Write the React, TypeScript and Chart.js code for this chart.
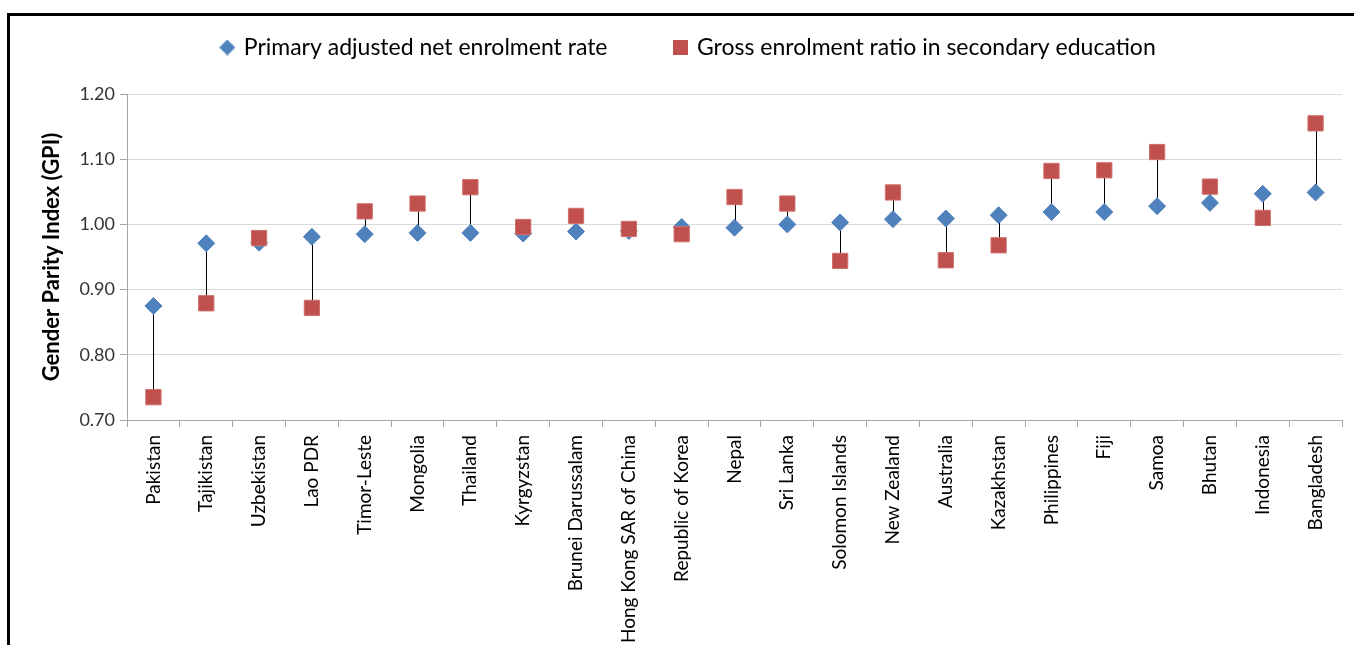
import React, { useEffect, useRef } from "react";
import { Chart, registerables } from "chart.js";

Chart.register(...registerables);

const countries = [
  "Pakistan", "Tajikistan", "Uzbekistan", "Lao PDR", "Timor-Leste", "Mongolia",
  "Thailand", "Kyrgyzstan", "Brunei Darussalam", "Hong Kong SAR of China",
  "Republic of Korea", "Nepal", "Sri Lanka", "Solomon Islands", "New Zealand",
  "Australia", "Kazakhstan", "Philippines", "Fiji", "Samoa", "Bhutan",
  "Indonesia", "Bangladesh",
];

const primaryNet = [
  0.875, 0.971, 0.972, 0.981, 0.985, 0.987, 0.987, 0.986, 0.989, 0.990,
  0.996, 0.995, 1.0, 1.003, 1.008, 1.009, 1.014, 1.019, 1.019, 1.028,
  1.033, 1.047, 1.049,
];

const secondaryGross = [
  0.735, 0.879, 0.979, 0.872, 1.02, 1.032, 1.057, 0.996, 1.013, 0.993,
  0.985, 1.042, 1.032, 0.944, 1.049, 0.945, 0.968, 1.082, 1.083, 1.111,
  1.058, 1.01, 1.155,
];

const seriesNames = [
  "Primary adjusted net enrolment rate",
  "Gross enrolment ratio in secondary education",
];

const yTicks = [0.7, 0.8, 0.9, 1.0, 1.1, 1.2];

const FONT = "Lato";
const BLUE = "#4F81BD";
const RED = "#C0504D";

const hiLoPlugin = {
  id: "hiLo",
  beforeDatasetsDraw(chart: any) {
    const a = chart.getDatasetMeta(0).data;
    const b = chart.getDatasetMeta(1).data;
    const ctx = chart.ctx;
    ctx.save();
    ctx.strokeStyle = "#000";
    ctx.lineWidth = 1;
    a.forEach((p: any, i: number) => {
      const q = b[i];
      if (!q) return;
      const x = Math.round(p.x) + 0.5;
      ctx.beginPath();
      ctx.moveTo(x, p.y);
      ctx.lineTo(x, q.y);
      ctx.stroke();
    });
    ctx.restore();
  },
};

const LEGEND_TOP = -48;
const PAD_LEFT = 26;

const legendHeightPlugin = {
  id: "legendHeight",
  beforeInit(chart: any) {
    const legend = chart.legend;
    if (!legend) return;
    const orig = legend.fit;
    legend.fit = function () {
      orig.call(this);
      this.height = 78 - LEGEND_TOP;
    };
  },
};

function makeMarker(kind: "diamond" | "square"): HTMLCanvasElement {
  const c = document.createElement("canvas");
  const s = kind === "diamond" ? 16 : 15;
  c.width = s;
  c.height = s;
  const g = c.getContext("2d")!;
  if (kind === "diamond") {
    g.fillStyle = BLUE;
    g.beginPath();
    g.moveTo(s / 2, 0);
    g.lineTo(s, s / 2);
    g.lineTo(s / 2, s);
    g.lineTo(0, s / 2);
    g.closePath();
    g.fill();
  } else {
    g.fillStyle = RED;
    g.fillRect(0, 0, s, s);
  }
  return c;
}

export default function App() {
  const ref = useRef<HTMLCanvasElement | null>(null);

  useEffect(() => {
    if (!ref.current) return;
    const markers = [makeMarker("diamond"), makeMarker("square")];
    const chart = new Chart(ref.current, {
      type: "line",
      data: {
        labels: countries,
        datasets: [
          {
            label: seriesNames[0],
            data: primaryNet,
            showLine: false,
            pointStyle: "rectRot",
            pointRadius: 8.5,
            pointBorderWidth: 1,
            backgroundColor: BLUE,
            borderColor: BLUE,
            order: 1,
          },
          {
            label: seriesNames[1],
            data: secondaryGross,
            showLine: false,
            pointStyle: "rect",
            pointRadius: 10.8,
            pointBorderWidth: 1,
            backgroundColor: RED,
            borderColor: "#D0706D",
            order: 0,
          },
        ],
      },
      options: {
        responsive: false,
        animation: false,
        layout: { padding: { top: LEGEND_TOP, right: 12, left: PAD_LEFT, bottom: 0 } },
        plugins: {
          tooltip: { enabled: false },
          legend: {
            display: true,
            position: "top",
            labels: {
              usePointStyle: true,
              pointStyleWidth: 10,
              boxHeight: 15,
              padding: 68,
              color: "#000",
              font: { family: FONT, size: 23 },
              sort: (a: any, b: any) => a.datasetIndex - b.datasetIndex,
              generateLabels: (ch: any) => {
                const items = (Chart.defaults.plugins.legend.labels as any).generateLabels(ch);
                items.forEach((it: any) => {
                  it.pointStyle = markers[it.datasetIndex];
                });
                return items;
              },
            },
          },
        },
        scales: {
          x: {
            type: "category",
            offset: true,
            grid: {
              offset: true,
              drawOnChartArea: false,
              drawTicks: true,
              tickLength: 7,
              color: "#a6a6a6",
            },
            border: { color: "#a6a6a6" },
            ticks: {
              minRotation: 90,
              maxRotation: 90,
              autoSkip: false,
              padding: 8,
              color: "#000",
              font: { family: FONT, size: 19 },
            },
            afterFit(scale: any) {
              scale.height = 225;
            },
          },
          y: {
            min: 0.7,
            max: 1.2,
            afterBuildTicks(scale: any) {
              scale.ticks = yTicks.map((v) => ({ value: v }));
            },
            grid: {
              color: "#d9d9d9",
              tickColor: "#a6a6a6",
              tickLength: 7,
            },
            border: { color: "#a6a6a6" },
            ticks: {
              padding: 5,
              color: "#333",
              font: { family: FONT, size: 18 },
              callback: (v: any) => Number(v).toFixed(2),
            },
            title: {
              display: true,
              text: "Gender Parity Index (GPI)",
              color: "#000",
              font: { family: FONT, size: 22, weight: "bold" },
              padding: { top: 29 - PAD_LEFT, bottom: 0 },
            },
            afterFit(scale: any) {
              scale.width = 117 - PAD_LEFT;
            },
          },
        },
      },
      plugins: [hiLoPlugin, legendHeightPlugin],
    } as any);
    return () => chart.destroy();
  }, []);

  return (
    <div style={{ position: "fixed", inset: 0, overflow: "hidden", background: "#fff" }}>
      <div
        style={{
          position: "absolute",
          left: 7,
          top: 13,
          width: 1400,
          height: 700,
          borderTop: "3px solid #000",
          borderLeft: "3px solid #000",
          boxSizing: "border-box",
        }}
      />
      <canvas
        ref={ref}
        width={1344}
        height={629}
        style={{ position: "absolute", left: 10, top: 16, width: 1344, height: 629 }}
      />
    </div>
  );
}
